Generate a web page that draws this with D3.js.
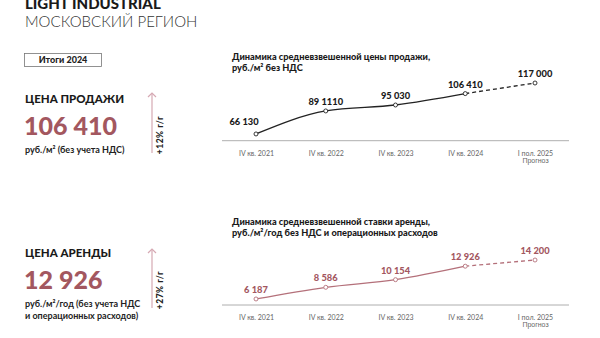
<!DOCTYPE html>
<html><head><meta charset="utf-8">
<script src="https://cdn.jsdelivr.net/npm/d3@7"></script>
<style>
html,body{margin:0;padding:0;background:#fff;}
svg{display:block;font-family:Lato,"Open Sans",sans-serif;}
</style></head>
<body>
<svg id="c" width="600" height="338"></svg>
<script>
const categories = ["IV кв. 2021","IV кв. 2022","IV кв. 2023","IV кв. 2024","I пол. 2025"];
const subLabels = ["","","","","Прогноз"];
const saleValues = [66130, 89110, 95030, 106410, 117000];
const saleLabels = ["66 130","89 1110","95 030","106 410","117 000"];
const rentValues = [6187, 8586, 10154, 12926, 14200];
const rentLabels = ["6 187","8 586","10 154","12 926","14 200"];
const forecastFrom = 3;

const svg = d3.select("#c");
const rose = "#a3575f", roseLine = "#b4707a", arrowCol = "#d6a9b3";

// header
svg.append("text").attr("x",25).attr("y",9).attr("font-size",15).attr("font-weight",900).attr("fill","#1a1a1a").text("LIGHT INDUSTRIAL");
svg.append("text").attr("x",25).attr("y",27).attr("font-size",15).attr("font-weight",300).attr("fill","#333").text("МОСКОВСКИЙ РЕГИОН");
svg.append("rect").attr("x",24.5).attr("y",53.5).attr("width",77).attr("height",13).attr("fill","none").attr("stroke","#777").attr("stroke-width",0.8);
svg.append("text").attr("x",63).attr("y",63.3).attr("text-anchor","middle").attr("font-size",9).attr("font-weight",900).attr("fill","#222").text("Итоги 2024");

function kpi(y0, title, big, sub, pct, arrowTop, arrowBot, pctY){
  svg.append("text").attr("x",25).attr("y",y0).attr("font-size",11.5).attr("font-weight",900).attr("fill","#1a1a1a").text(title);
  svg.append("text").attr("x",24).attr("y",y0+32).attr("font-size",25).attr("font-weight",900).attr("fill",rose).text(big);
  sub.forEach((s,i)=>svg.append("text").attr("x",25).attr("y",y0+50+i*11.5).attr("font-size",9).attr("font-weight",700).attr("fill","#222").text(s));
  svg.append("line").attr("x1",152).attr("x2",152).attr("y1",arrowTop+1).attr("y2",arrowBot).attr("stroke",arrowCol).attr("stroke-width",1.2);
  svg.append("path").attr("d",`M148,${arrowTop+4}L152,${arrowTop}L156,${arrowTop+4}`).attr("fill","none").attr("stroke",arrowCol).attr("stroke-width",1.2);
  svg.append("text").attr("transform",`translate(163,${pctY}) rotate(-90)`).attr("text-anchor","middle").attr("font-size",8.5).attr("font-weight",900).attr("letter-spacing",0.5).attr("fill","#222").text(pct);
}
kpi(103,"ЦЕНА ПРОДАЖИ","106 410",["руб./м² (без учета НДС)"],"+12% г/г",93,153,135);
kpi(257,"ЦЕНА АРЕНДЫ","12 926",["руб./м²/год (без учета НДС","и операционных расходов)"],"+27% г/г",249,308,290);

const x = d3.scalePoint().domain(categories).range([256,535]);

function chart(opt){
  const y = d3.scaleLinear().domain(opt.domain).range([opt.base, opt.top]);
  opt.title.forEach((t,i)=>svg.append("text").attr("x",232).attr("y",opt.titleY+i*10.5).attr("font-size",9.2).attr("font-weight",900).attr("fill","#1a1a1a").text(t));
  svg.append("line").attr("x1",222).attr("x2",569).attr("y1",opt.base).attr("y2",opt.base).attr("stroke","#999").attr("stroke-width",0.8);
  const ax = svg.append("g").attr("transform",`translate(0,${opt.base})`)
    .call(d3.axisBottom(x).tickSize(0).tickPadding(10));
  ax.select(".domain").remove();
  ax.selectAll("text").attr("font-size",7).attr("fill","#666").attr("font-family","Lato,sans-serif");
  ax.selectAll(".tick").each(function(d,i){
    if(subLabels[i]) d3.select(this).append("text").attr("y",17.5).attr("dy","0.71em").attr("text-anchor","middle").attr("font-size",7).attr("fill","#666").text(subLabels[i]);
  });
  const pts = categories.map((c,i)=>[x(c), y(opt.values[i])]);
  const line = d3.line().curve(d3.curveMonotoneX);
  svg.append("path").attr("d",line(pts.slice(0,forecastFrom+1))).attr("fill","none").attr("stroke",opt.color).attr("stroke-width",1.3);
  svg.append("path").attr("d",line(pts.slice(forecastFrom))).attr("fill","none").attr("stroke",opt.color).attr("stroke-width",1.3).attr("stroke-dasharray","4,3");
  svg.selectAll(null).data(pts).enter().append("circle").attr("cx",d=>d[0]).attr("cy",d=>d[1]).attr("r",2).attr("fill","#fff").attr("stroke",opt.color).attr("stroke-width",0.9);
  svg.selectAll(null).data(pts).enter().append("text")
    .attr("x",(d,i)=>d[0]+(i===0?opt.firstDx:0)).attr("y",(d,i)=>d[1]-(i===0?opt.firstDy:6))
    .attr("text-anchor","middle").attr("font-size",9.3).attr("font-weight",900).attr("fill",opt.labelColor)
    .text((d,i)=>opt.labels[i]);
}
chart({values:saleValues,labels:saleLabels,domain:[59400,117000],base:140.7,top:83,color:"#222",labelColor:"#1a1a1a",
  title:["Динамика средневзвешенной цены продажи,","руб./м² без НДС"],titleY:60,firstDx:-12,firstDy:9});
chart({values:rentValues,labels:rentLabels,domain:[4950,14200],base:305,top:260,color:roseLine,labelColor:rose,
  title:["Динамика средневзвешенной ставки аренды,","руб./м²/год без НДС и операционных расходов"],titleY:225,firstDx:0,firstDy:6});
</script>
</body></html>
